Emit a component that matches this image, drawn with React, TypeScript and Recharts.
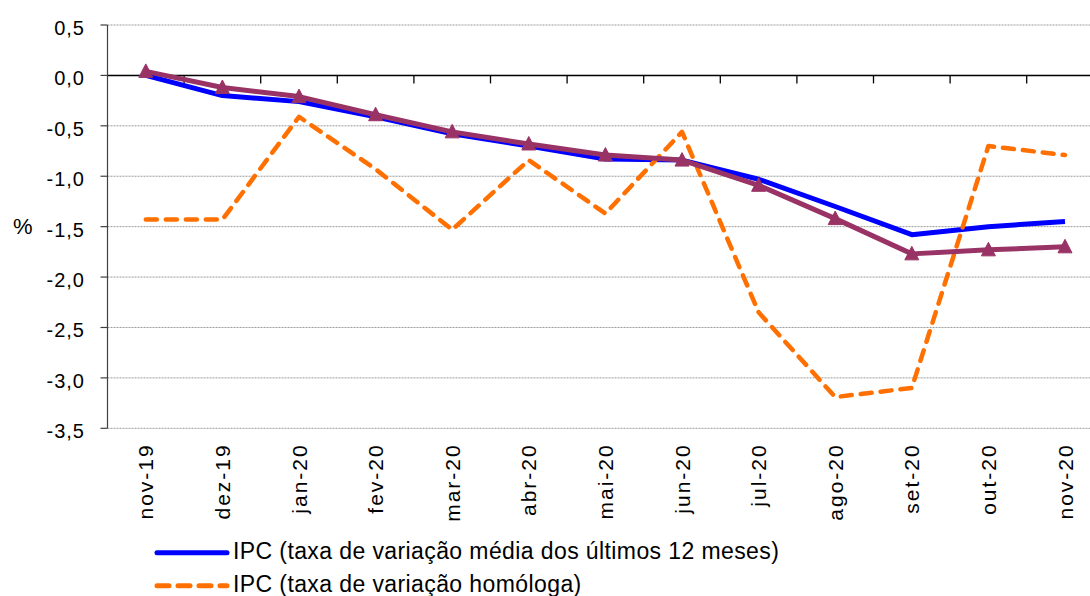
import React from 'react';
import { LineChart, Line, XAxis, YAxis, CartesianGrid, ReferenceLine, Legend } from 'recharts';

const categories = ['nov-19', 'dez-19', 'jan-20', 'fev-20', 'mar-20', 'abr-20', 'mai-20', 'jun-20', 'jul-20', 'ago-20', 'set-20', 'out-20', 'nov-20'];
const mediaDozeMeses = [0.0, -0.2, -0.26, -0.41, -0.58, -0.7, -0.83, -0.84, -1.03, -1.3, -1.58, -1.5, -1.45];
const homologa = [-1.43, -1.43, -0.41, -0.93, -1.53, -0.84, -1.37, -0.56, -2.35, -3.19, -3.1, -0.7, -0.79];
const terceiraSerie = [0.04, -0.12, -0.21, -0.39, -0.56, -0.68, -0.79, -0.84, -1.09, -1.42, -1.77, -1.73, -1.7];
const yTicks = [0.5, 0, -0.5, -1, -1.5, -2, -2.5, -3, -3.5];

const legendItems = [
  { name: 'IPC (taxa de variação média dos últimos 12 meses)', color: '#0000FF', dash: undefined as string | undefined },
  { name: 'IPC (taxa de variação homóloga)', color: '#FF7000', dash: '12 9' },
];

const data = categories.map((c, i) => ({
  cat: c,
  media: mediaDozeMeses[i],
  homologa: homologa[i],
  terceira: terceiraSerie[i],
}));

const FONT = '"Liberation Sans", Arial, sans-serif';

const XTick = (props: any) => {
  const { x, y, payload } = props;
  return (
    <text
      x={x}
      y={y}
      transform={`rotate(-90 ${x} ${y})`}
      textAnchor="end"
      dy="0.36em"
      fontSize={21}
      letterSpacing={2}
      fontFamily={FONT}
      fill="#000"
    >
      {payload.value}
    </text>
  );
};

const YTick = (props: any) => {
  const { x, y, payload } = props;
  return (
    <text x={x} y={y} dy={10} textAnchor="end" fontSize={20} letterSpacing={1} fontFamily={FONT} fill="#000">
      {Number(payload.value).toFixed(1).replace('.', ',')}
    </text>
  );
};

const ZeroLine = (props: any) => {
  const { x1, y1, x2 } = props;
  const n = categories.length;
  const step = (x2 - x1) / n;
  const marks = [];
  for (let k = 1; k < n; k++) {
    const xx = x1 + k * step;
    marks.push(<line key={k} x1={xx} x2={xx} y1={y1} y2={y1 + 8} stroke="#000" strokeWidth={1.3} />);
  }
  return (
    <g>
      <line x1={x1} x2={x2} y1={y1} y2={y1} stroke="#000" strokeWidth={1.5} />
      {marks}
    </g>
  );
};

const Triangle = (props: any) => {
  const { cx, cy, index } = props;
  if (cx == null || cy == null) return <g key={`t-${index}`} />;
  return (
    <path
      key={`t-${index}`}
      d={`M ${cx} ${cy - 7.5} L ${cx + 7} ${cy + 6} L ${cx - 7} ${cy + 6} Z`}
      fill="#993366"
      stroke="#993366"
      strokeWidth={1}
    />
  );
};

const LegendContent = () => (
  <svg width={1090} height={66} style={{ display: 'block' }}>
    {legendItems.map((it, i) => (
      <g key={it.name}>
        <line
          x1={157}
          x2={227}
          y1={22.7 + i * 33}
          y2={22.7 + i * 33}
          stroke={it.color}
          strokeWidth={5}
          strokeLinecap="round"
          strokeDasharray={it.dash}
        />
        <text x={233} y={29.3 + i * 33} fontSize={23} letterSpacing={0.4} fontFamily={FONT} fill="#000">
          {it.name}
        </text>
      </g>
    ))}
  </svg>
);

export default function App() {
  return (
    <div
      style={{
        position: 'fixed',
        left: 0,
        top: 0,
        width: 1090,
        height: 596,
        overflow: 'hidden',
        background: '#fff',
      }}
    >
      <LineChart
        width={1110}
        height={596}
        data={data}
        margin={{ top: 25, right: 6.7, left: 0, bottom: 67.7 }}
      >
        <CartesianGrid horizontal vertical={false} stroke="#9a9a9a" strokeDasharray="2 1" />
        <XAxis
          dataKey="cat"
          interval={0}
          height={100}
          padding={{ left: 38.3, right: 38.3 }}
          axisLine={false}
          tickLine={false}
          tickSize={6}
          tickMargin={9}
          tick={<XTick />}
        />
        <YAxis
          width={107.5}
          domain={[-3.5, 0.5]}
          ticks={yTicks}
          interval={0}
          allowDataOverflow
          axisLine={{ stroke: '#404040', strokeWidth: 1.2 }}
          tickLine={{ stroke: '#404040', strokeWidth: 1.2 }}
          tickSize={7}
          tickMargin={15.5}
          tick={<YTick />}
          label={{ value: '%', position: 'insideLeft', offset: 13, fontSize: 22, fill: '#000', fontFamily: FONT }}
        />
        <ReferenceLine y={0} shape={<ZeroLine />} />
        <Legend
          layout="horizontal"
          verticalAlign="middle"
          align="center"
          content={<LegendContent />}
          wrapperStyle={{ left: 0, top: 530, width: 1090, height: 66 }}
        />
        <Line
          name="IPC (taxa de variação média dos últimos 12 meses)"
          dataKey="media"
          type="linear"
          stroke="#0000FF"
          strokeWidth={5}
          strokeLinejoin="round"
          dot={false}
          activeDot={false}
          isAnimationActive={false}
        />
        <Line
          name="IPC (taxa de variação homóloga)"
          dataKey="homologa"
          type="linear"
          stroke="#FF7000"
          strokeWidth={4.5}
          strokeDasharray="11 9"
          strokeLinecap="round"
          strokeLinejoin="round"
          dot={false}
          activeDot={false}
          isAnimationActive={false}
        />
        <Line
          name="Série 3"
          dataKey="terceira"
          type="linear"
          stroke="#993366"
          strokeWidth={5}
          strokeLinejoin="round"
          dot={<Triangle />}
          activeDot={false}
          isAnimationActive={false}
        />
      </LineChart>
    </div>
  );
}
